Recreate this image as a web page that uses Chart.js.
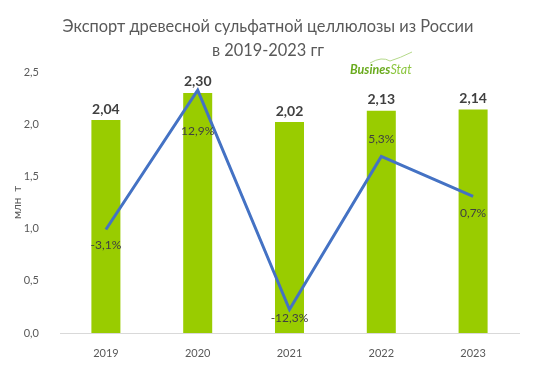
<!DOCTYPE html>
<html>
<head>
<meta charset="utf-8">
<script src="https://cdn.jsdelivr.net/npm/chart.js@4"></script>
<style>
  html, body { margin: 0; padding: 0; background: #fff; }
  #wrap { width: 541px; height: 370px; }
</style>
</head>
<body>
<div id="wrap"><canvas id="myChart"></canvas></div>
<script>
const years = ['2019', '2020', '2021', '2022', '2023'];
const exportVolume = [2.04, 2.30, 2.02, 2.13, 2.14];
const growthRate = [-3.1, 12.9, -12.3, 5.3, 0.7];
const yTicks = [0, 0.5, 1.0, 1.5, 2.0, 2.5];

const fontName = 'Lato, "Noto Sans", sans-serif';
const comma = (v, d) => v.toFixed(d).replace('.', ',');

// label offsets for the growth line (px, minus = above)
const growthOffsets = [16, 41, 9, -17, 17];

const labelsPlugin = {
  id: 'labels',
  afterDatasetsDraw(chart) {
    const ctx = chart.ctx;
    ctx.save();
    ctx.textAlign = 'center';
    ctx.textBaseline = 'middle';
    // bar values
    ctx.font = 'bold 14px ' + fontName;
    ctx.fillStyle = '#404040';
    chart.getDatasetMeta(1).data.forEach(function(bar, i) {
      ctx.fillText(comma(exportVolume[i], 2), bar.x, bar.y - 11);
    });
    // growth labels
    ctx.font = '12px ' + fontName;
    ctx.fillStyle = '#404040';
    chart.getDatasetMeta(0).data.forEach(function(pt, i) {
      ctx.fillText(comma(growthRate[i], 1) + '%', pt.x, pt.y + growthOffsets[i]);
    });
    ctx.restore();
  }
};

const headerPlugin = {
  id: 'header',
  afterDraw(chart) {
    const ctx = chart.ctx;
    ctx.save();
    ctx.textAlign = 'center';
    ctx.textBaseline = 'middle';
    ctx.fillStyle = '#595959';
    ctx.font = '16.4px ' + fontName;
    ctx.fillText('Экспорт древесной сульфатной целлюлозы из России', 268, 27);
    ctx.fillText('в 2019-2023 гг', 268, 51);

    // BusinesStat logo
    ctx.textAlign = 'left';
    ctx.font = 'italic bold 12.5px ' + fontName;
    ctx.fillStyle = '#6aab1e';
    ctx.fillText('Busines', 350, 70);
    const w = ctx.measureText('Busines').width;
    ctx.font = 'italic 12.5px ' + fontName;
    ctx.fillStyle = '#8cc63f';
    ctx.fillText('Stat', 350 + w, 70);
    ctx.strokeStyle = '#b5d98a';
    ctx.lineWidth = 1;
    ctx.beginPath();
    ctx.moveTo(370, 63);
    ctx.quadraticCurveTo(382, 56, 390, 61);
    ctx.quadraticCurveTo(400, 58, 412, 52);
    ctx.stroke();
    ctx.restore();
  }
};

const ctx = document.getElementById('myChart').getContext('2d');
// eslint-disable-next-line no-undef
const chart = new Chart(ctx, {
  data: {
    labels: years,
    datasets: [{
      type: 'line',
      label: 'Прирост',
      data: growthRate,
      yAxisID: 'y1',
      borderColor: '#4472C4',
      borderWidth: 3,
      pointRadius: 0,
      tension: 0,
      order: 0,
    },
    {
      type: 'bar',
      label: 'Экспорт',
      data: exportVolume,
      yAxisID: 'y',
      backgroundColor: '#99CC00',
      barPercentage: 0.316,
      categoryPercentage: 1,
      order: 1,
    }]
  },
  options: {
    responsive: true,
    maintainAspectRatio: false,
    animation: false,
    layout: { padding: { top: 72, right: 22, left: 0, bottom: 0 } },
    plugins: {
      legend: { display: false },
      title: { display: false },
      tooltip: { enabled: false },
    },
    scales: {
      x: {
        grid: { display: false },
        border: { color: '#d9d9d9', width: 1 },
        ticks: { color: '#595959', font: { family: fontName, size: 11 }, padding: 6 },
        afterFit(scale) { scale.height = 37; },
      },
      y: {
        min: 0,
        max: 2.5,
        afterBuildTicks(scale) { scale.ticks = yTicks.map(v => ({ value: v })); },
        grid: { display: false },
        border: { display: false },
        ticks: {
          color: '#595959',
          font: { family: fontName, size: 11 },
          padding: 13,
          callback: v => comma(v, 1),
        },
        title: {
          display: true,
          text: 'млн  т',
          color: '#595959',
          font: { family: fontName, size: 11.5 },
          padding: { top: 10, bottom: 0 },
        },
        afterFit(scale) { scale.width = 60; },
      },
      y1: {
        display: false,
        min: -15,
        max: 15,
      }
    }
  },
  plugins: [labelsPlugin, headerPlugin],
});
</script>
</body>
</html>
